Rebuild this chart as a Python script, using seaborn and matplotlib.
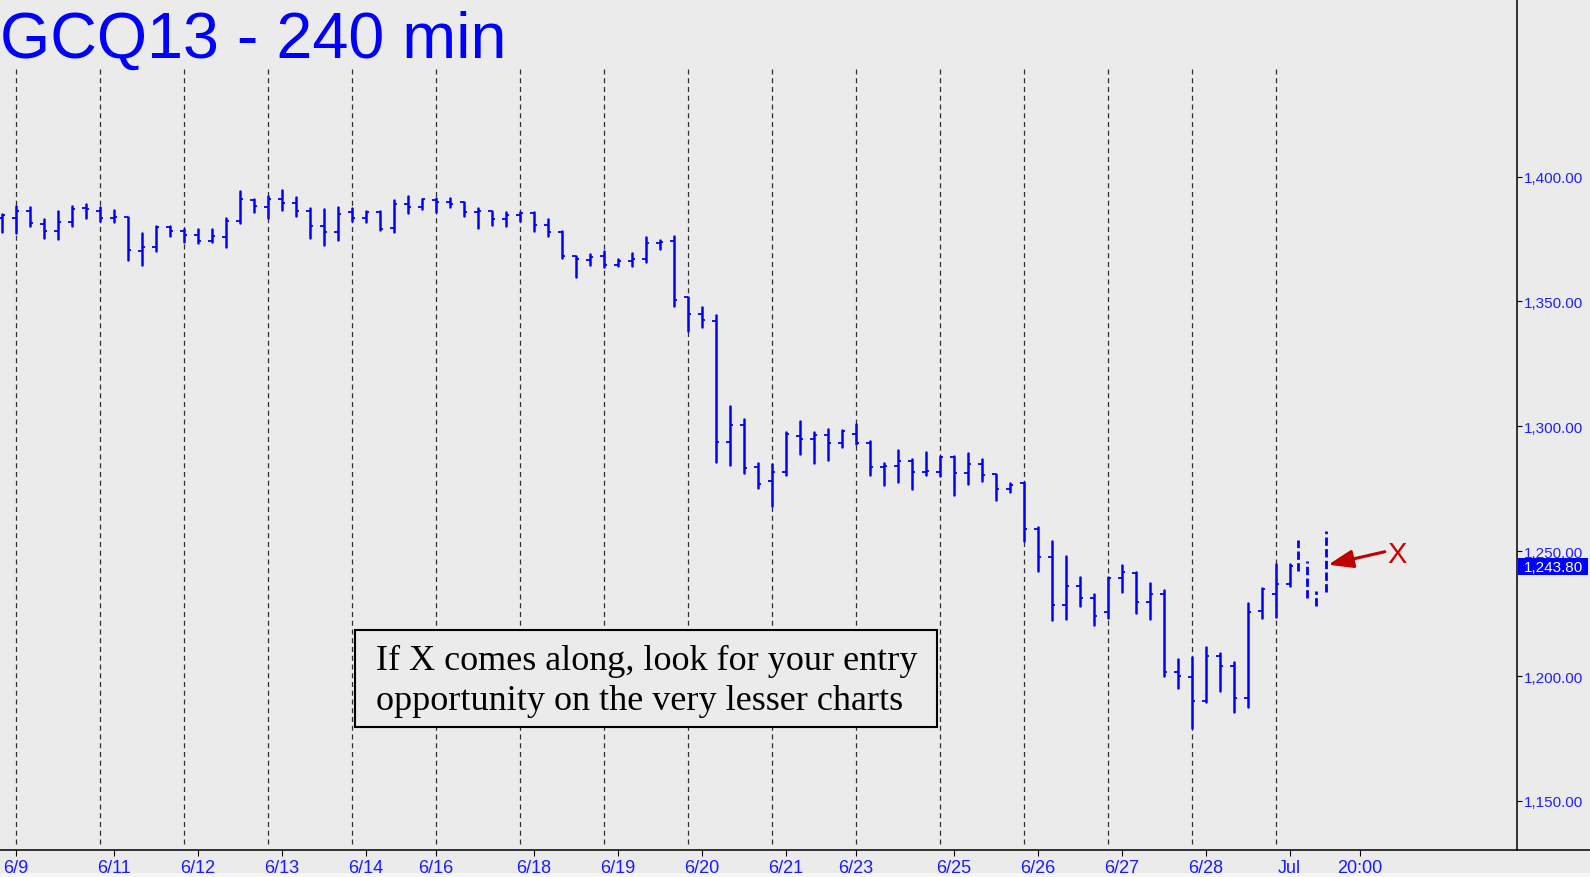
import numpy as np
import pandas as pd
import matplotlib
matplotlib.use("Agg")
import matplotlib.pyplot as plt
import matplotlib.transforms as mtrans
from matplotlib.patches import Rectangle
from matplotlib.lines import Line2D
import seaborn as sns

# GCQ13 240 min bars, 6 bars a day
opens = [1383.4, 1383.4, 1386.2, 1381.1, 1378.2, 1381.9, 1387.4, 1386.2, 1383.4, 1383.9,
         1370.3, 1371.9, 1379.9, 1378.3, 1376.6, 1374.2, 1375.8, 1382.1, 1390.7, 1387.8,
         1391.0, 1389.4, 1386.2, 1380.3, 1377.9, 1385.7, 1383.4, 1385.7, 1379.4, 1389.1,
         1387.8, 1390.7, 1389.9, 1389.7, 1385.9, 1386.1, 1383.0, 1384.7, 1385.5, 1380.7,
         1377.8, 1368.3, 1366.7, 1368.1, 1364.6, 1366.3, 1367.0, 1373.3, 1374.3, 1351.6,
         1345.1, 1342.2, 1293.7, 1300.7, 1283.9, 1278.0, 1281.9, 1296.3, 1294.9, 1296.7,
         1293.5, 1296.8, 1293.5, 1283.9, 1284.1, 1286.3, 1281.9, 1281.9, 1287.9, 1281.5,
         1284.8, 1280.8, 1274.9, 1277.3, 1258.9, 1247.7, 1228.5, 1236.1, 1231.4, 1225.5,
         1239.4, 1241.3, 1229.7, 1233.0, 1201.8, 1199.8, 1189.9, 1208.2, 1204.2, 1191.1,
         1226.1, 1232.9, 1236.7]
highs = [1385.0, 1388.1, 1387.7, 1382.9, 1386.1, 1388.1, 1388.9, 1387.7, 1386.5, 1383.9,
         1377.4, 1380.3, 1380.3, 1379.0, 1379.0, 1379.0, 1383.3, 1394.2, 1391.0, 1392.1,
         1394.6, 1391.7, 1387.3, 1387.0, 1387.7, 1387.4, 1386.1, 1386.1, 1390.6, 1392.2,
         1391.1, 1391.4, 1391.5, 1389.7, 1387.3, 1386.2, 1385.7, 1385.7, 1385.7, 1383.0,
         1378.1, 1368.3, 1368.9, 1370.3, 1367.0, 1369.4, 1375.8, 1374.7, 1376.1, 1351.8,
         1347.6, 1344.6, 1308.1, 1302.8, 1285.3, 1284.9, 1297.6, 1302.1, 1297.7, 1298.9,
         1298.4, 1301.1, 1294.0, 1285.3, 1290.5, 1286.8, 1289.7, 1288.0, 1288.0, 1289.3,
         1286.9, 1280.8, 1277.2, 1277.6, 1259.6, 1254.1, 1247.9, 1239.7, 1232.9, 1239.7,
         1244.5, 1241.6, 1237.3, 1234.5, 1206.9, 1207.7, 1211.7, 1209.3, 1205.8, 1229.3,
         1235.2, 1244.9, 1244.8]
lows = [1377.7, 1377.3, 1380.1, 1375.3, 1374.9, 1380.3, 1383.3, 1382.1, 1381.7, 1366.4,
        1364.6, 1370.1, 1376.1, 1373.9, 1373.3, 1373.7, 1371.9, 1381.4, 1385.7, 1383.4,
        1386.7, 1384.1, 1375.5, 1372.7, 1374.7, 1382.1, 1381.7, 1378.6, 1377.7, 1385.3,
        1387.0, 1385.9, 1387.8, 1384.3, 1379.5, 1380.7, 1380.3, 1382.3, 1378.3, 1376.1,
        1367.4, 1359.9, 1364.7, 1363.6, 1364.0, 1364.3, 1365.9, 1371.1, 1348.0, 1338.3,
        1339.9, 1285.9, 1284.7, 1281.2, 1275.2, 1268.2, 1280.7, 1288.8, 1285.2, 1286.7,
        1291.9, 1292.8, 1280.7, 1276.7, 1277.9, 1274.7, 1280.7, 1280.0, 1272.3, 1277.1,
        1278.0, 1270.3, 1273.6, 1254.2, 1242.2, 1222.6, 1222.9, 1228.2, 1220.6, 1223.4,
        1233.8, 1225.4, 1223.0, 1200.2, 1195.4, 1179.1, 1189.5, 1193.9, 1185.5, 1187.5,
        1223.1, 1223.5, 1236.2]
closes = [1384.7, 1386.2, 1381.5, 1378.2, 1381.9, 1387.0, 1387.0, 1383.4, 1383.8, 1370.7,
          1371.9, 1379.9, 1378.2, 1376.6, 1374.2, 1376.1, 1382.3, 1391.0, 1388.3, 1391.0,
          1389.4, 1386.2, 1380.3, 1377.7, 1385.1, 1383.4, 1385.7, 1378.9, 1388.9, 1387.8,
          1391.0, 1389.9, 1389.1, 1385.9, 1386.2, 1383.0, 1384.6, 1385.5, 1380.7, 1377.7,
          1368.0, 1367.0, 1367.8, 1364.6, 1366.3, 1367.0, 1373.3, 1373.9, 1350.7, 1345.1,
          1342.6, 1293.7, 1300.7, 1283.3, 1276.9, 1281.9, 1296.8, 1294.9, 1296.7, 1293.5,
          1298.3, 1293.2, 1283.9, 1284.1, 1286.3, 1281.9, 1282.3, 1287.9, 1281.5, 1284.8,
          1280.7, 1274.9, 1276.5, 1258.9, 1247.7, 1228.5, 1236.1, 1231.4, 1224.2, 1239.4,
          1241.8, 1229.7, 1233.0, 1201.8, 1200.2, 1190.2, 1208.2, 1204.2, 1191.1, 1225.7,
          1235.0, 1237.0, 1244.2]

# the small dashed bars at the right end
live_pos = [92.6, 93.25, 93.9, 94.57]
live_high = [1254.5, 1246.0, 1233.9, 1258.2]
live_low = [1242.0, 1231.1, 1228.0, 1233.8]

day_lines = list(range(1, 92, 6))
tick_pos = [1, 8, 14, 20, 26, 31, 38, 44, 50, 56, 61, 68, 74, 80, 86, 92, 97]
tick_labels = ['6/9', '6/11', '6/12', '6/13', '6/14', '6/16', '6/18', '6/19', '6/20',
               '6/21', '6/23', '6/25', '6/26', '6/27', '6/28', 'Jul', '20:00']
price_ticks = [1150, 1200, 1250, 1300, 1350, 1400]
last_price = 1243.80

bg = "#ebebeb"
blue = "#0000ff"
sns.set_style("white", {"axes.facecolor": bg, "figure.facecolor": bg})
plt.rcParams['font.family'] = ['Liberation Sans', 'DejaVu Sans']

W, H = 1590, 878
fig = plt.figure(figsize=(W / 100, H / 100), dpi=100)
ax = fig.add_axes([0, 1 - 851 / H, 1517 / W, 851 / H])
ax.set_xlim(-0.121, 108.24)
ax.set_ylim(1130.38, 1471.06)

# day separators
ax.vlines(day_lines, 1132.8, 1443.4, colors="#2e2e2e", linestyles=(0, (4, 3)),
          lw=0.9, zorder=1)

bars = pd.DataFrame({"bar": np.arange(len(opens)), "open": opens, "high": highs,
                     "low": lows, "close": closes})
hl = bars.melt(id_vars="bar", value_vars=["high", "low"], value_name="price")
sns.lineplot(data=hl, x="bar", y="price", units="bar", estimator=None, color=blue,
             lw=1.8, ax=ax, legend=False, zorder=3)
ax.hlines(bars["open"], bars["bar"] - 0.27, bars["bar"], colors=blue, lw=1.3, zorder=3)
ax.hlines(bars["close"], bars["bar"], bars["bar"] + 0.27, colors=blue, lw=1.3, zorder=3)
ax.vlines(live_pos, live_low, live_high, colors=blue, linestyles=(0, (3, 1.2)),
          lw=2.0, zorder=3)

ax.set_xlabel("")
ax.set_ylabel("")
ax.set_xticks(tick_pos, tick_labels)
ax.tick_params(axis='x', bottom=True, direction='out', length=4.3, width=0.8,
               color='black', labelcolor='#1a1aff', labelsize=13, pad=2.5)
ax.yaxis.tick_right()
ax.set_yticks(price_ticks, [f"{p:,.2f}" for p in price_ticks])
ax.tick_params(axis='y', right=True, direction='out', length=3.6, width=0.8,
               color='black', labelcolor='#1f1fff', labelsize=11, pad=1.5)
ax.grid(False)
for s in ['left', 'top', 'bottom']:
    ax.spines[s].set_visible(False)
ax.spines['right'].set_color('black')
ax.spines['right'].set_linewidth(1.1)

# bottom axis line runs across the whole window
fig.add_artist(Line2D([0, 1], [1 - 851 / H] * 2, transform=fig.transFigure,
                      color='black', lw=1.1))
fig.patches.append(Rectangle((0, 0), 1, 4 / H, transform=fig.transFigure,
                             fc='#f6f6f6', ec='none'))

# last price marker
trans = mtrans.blended_transform_factory(fig.transFigure, ax.transData)
ax.add_patch(Rectangle((1518 / W, last_price - 3.4), 70 / W, 6.8, transform=trans,
                       fc=blue, ec='none', clip_on=False, zorder=5))
ax.text(1524 / W, last_price, f"{last_price:,.2f}", transform=trans, color='white',
        fontsize=11, ha='left', va='center', clip_on=False, zorder=6)

# arrow and X
ax.annotate('', xy=(94.76, 1244.6), xytext=(98.8, 1249.8),
            arrowprops=dict(arrowstyle='-|>,head_length=1.5,head_width=0.55',
                            color='#c00000', lw=2.2, shrinkA=0, shrinkB=0),
            annotation_clip=False, zorder=6)
ax.text(99.64, 1248.9, 'X', color='#cc0000', fontsize=21, ha='center', va='center')

# title
fig.text(0.0, 1 - 58 / H, 'GCQ13 - 240 min', fontsize=46.5, color=blue,
         ha='left', va='baseline')

# comment box
fig.patches.append(Rectangle((355 / W, 1 - 728 / H), 582 / W, 97 / H,
                             transform=fig.transFigure, fc=bg, ec='black', lw=1.5))
fig.text(376 / W, 1 - 670 / H, 'If X comes along, look for your entry',
         family=['Liberation Serif', 'DejaVu Serif'], fontsize=26, color='black',
         va='baseline')
fig.text(376 / W, 1 - 710 / H, 'opportunity on the very lesser charts',
         family=['Liberation Serif', 'DejaVu Serif'], fontsize=26, color='black',
         va='baseline')

fig.savefig('out.png', dpi=100, facecolor=fig.get_facecolor())
